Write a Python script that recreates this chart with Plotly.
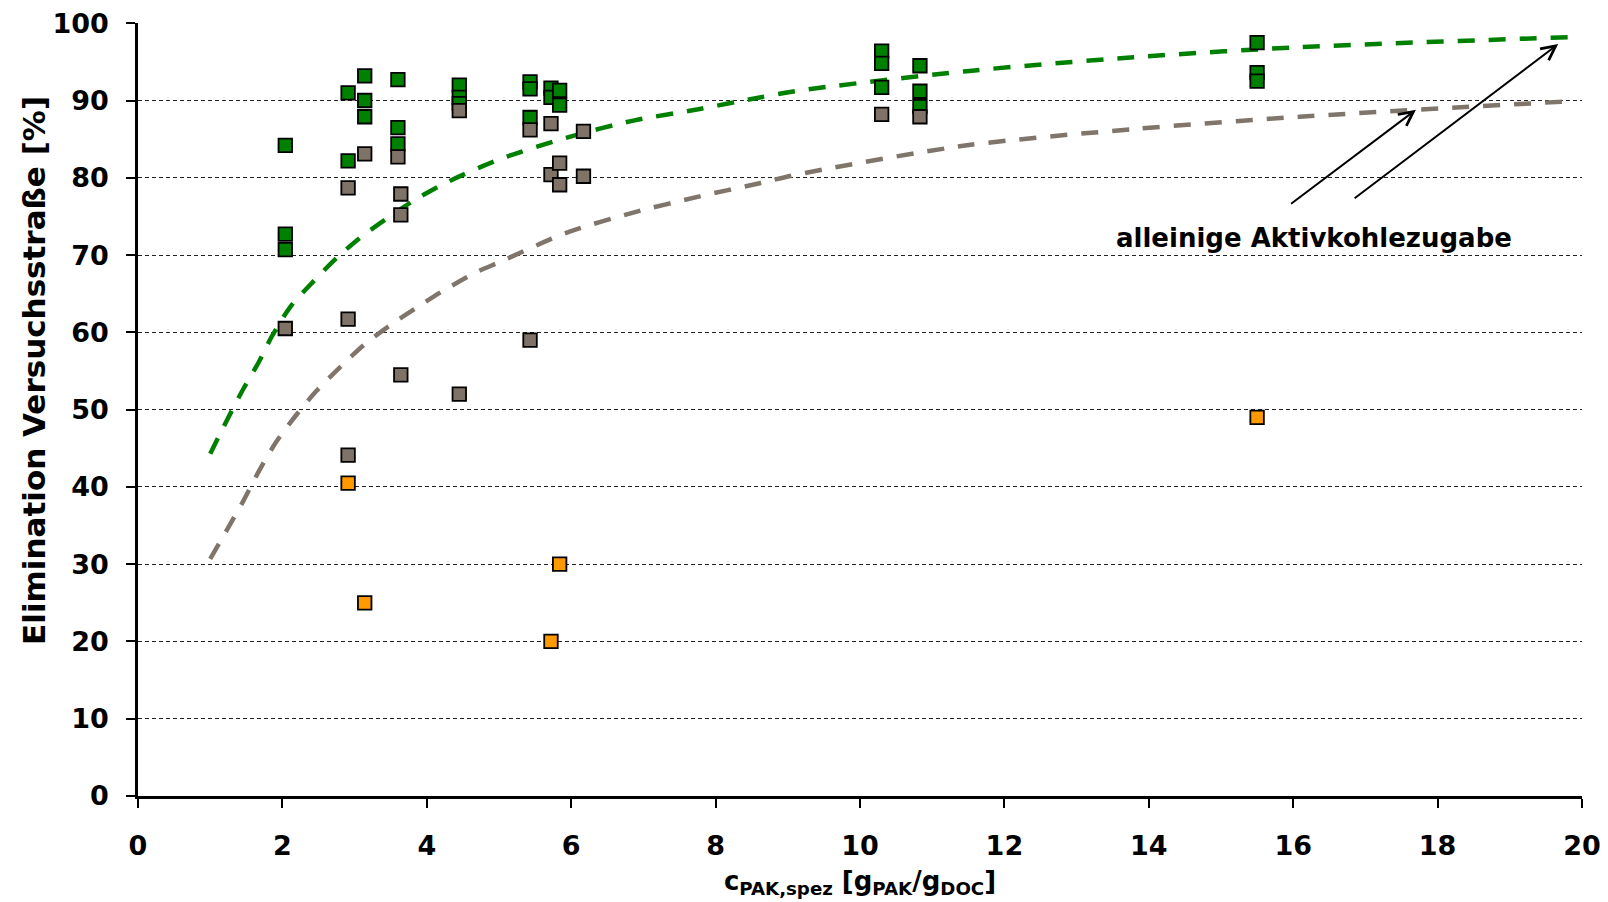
import plotly.graph_objects as go

# ---- data ----
green_x = [2.04, 2.04, 2.04, 2.91, 2.91, 3.14, 3.14, 3.14, 3.60, 3.60, 3.60,
           4.45, 4.45, 4.45, 5.43, 5.43, 5.43, 5.72, 5.72, 5.84, 5.84,
           10.30, 10.30, 10.30, 10.83, 10.83, 10.83, 15.50, 15.50, 15.50]
green_y = [84.2, 72.7, 70.7, 91.0, 82.2, 93.2, 90.0, 87.9, 92.7, 86.5, 84.4,
           92.0, 90.4, 89.6, 92.4, 91.5, 87.8, 91.6, 90.4, 91.3, 89.4,
           96.4, 94.8, 91.7, 94.5, 91.2, 89.2, 97.5, 93.6, 92.5]

grey_x = [2.04, 2.91, 2.91, 2.91, 3.14, 3.60, 3.64, 3.64, 3.64, 4.45, 4.45,
          5.43, 5.43, 5.72, 5.72, 5.84, 5.84, 6.17, 6.17, 10.30, 10.83]
grey_y = [60.5, 78.7, 61.7, 44.1, 83.1, 82.7, 77.9, 75.2, 54.5, 88.7, 52.0,
          86.2, 59.0, 87.0, 80.4, 81.9, 79.1, 86.0, 80.2, 88.2, 87.9]

orange_x = [2.91, 3.14, 5.72, 5.84, 15.50]
orange_y = [40.5, 25.0, 20.0, 30.0, 49.0]

green_fit_x = [1.0, 1.23, 1.46, 1.67, 1.85, 2.11, 2.43, 2.75, 3.07, 3.49, 3.81, 4.23,
               5.01, 5.94, 6.86, 7.78, 8.61, 9.17, 11.48, 13.79, 16.09, 19.83]
green_fit_y = [44.3, 48.6, 52.7, 56.1, 59.4, 63.3, 66.6, 69.6, 72.2, 75.0, 77.0, 79.2,
               82.4, 85.2, 87.4, 88.9, 90.4, 91.3, 93.8, 95.6, 96.9, 98.2]

grey_fit_x = [1.0, 1.23, 1.46, 1.69, 1.92, 2.20, 2.47, 2.80, 3.12, 3.49, 3.86, 4.23,
              4.69, 5.01, 5.94, 6.86, 7.78, 8.61, 9.17, 11.48, 13.79, 16.09, 19.83]
grey_fit_y = [30.7, 34.4, 38.2, 42.3, 45.9, 49.4, 52.4, 55.5, 58.3, 60.9, 63.2, 65.4,
              67.8, 69.1, 72.9, 75.5, 77.6, 79.3, 80.5, 84.2, 86.3, 87.9, 89.9]

x_ticks = [0, 2, 4, 6, 8, 10, 12, 14, 16, 18, 20]
y_ticks = [0, 10, 20, 30, 40, 50, 60, 70, 80, 90, 100]

y_title = "Elimination Versuchsstraße [%]"
x_title = "c<sub>PAK,spez</sub> [g<sub>PAK</sub>/g<sub>DOC</sub>]"
annotation_text = "alleinige Aktivkohlezugabe"
arrow1 = dict(tail=(15.95, 76.5), head=(17.70, 88.8))
arrow2 = dict(tail=(16.83, 77.2), head=(19.67, 97.3))

FONT = "DejaVu Sans, Liberation Sans, Arial, sans-serif"
GREEN = "#008000"
GREY = "#7F7368"
GREY_LINE = "#7F756B"
ORANGE = "#FF9900"

fig = go.Figure()

fig.add_trace(go.Scatter(x=green_fit_x, y=green_fit_y, mode="lines",
                         line=dict(color=GREEN, width=4.5, dash="17px,14px", shape="spline", smoothing=0.8),
                         showlegend=False, hoverinfo="skip"))
fig.add_trace(go.Scatter(x=grey_fit_x, y=grey_fit_y, mode="lines",
                         line=dict(color=GREY_LINE, width=4.5, dash="17px,14px", shape="spline", smoothing=0.8),
                         showlegend=False, hoverinfo="skip"))

marker_line = dict(color="black", width=1.8)
fig.add_trace(go.Scatter(x=green_x, y=green_y, mode="markers",
                         marker=dict(symbol="square", size=13.5, color=GREEN, line=marker_line),
                         showlegend=False))
fig.add_trace(go.Scatter(x=grey_x, y=grey_y, mode="markers",
                         marker=dict(symbol="square", size=13.5, color=GREY, line=marker_line),
                         showlegend=False))
fig.add_trace(go.Scatter(x=orange_x, y=orange_y, mode="markers",
                         marker=dict(symbol="square", size=13.5, color=ORANGE, line=marker_line),
                         showlegend=False))

for a in (arrow1, arrow2):
    fig.add_annotation(x=a["head"][0], y=a["head"][1], ax=a["tail"][0], ay=a["tail"][1],
                       xref="x", yref="y", axref="x", ayref="y", text="",
                       showarrow=True, arrowhead=5, arrowsize=1.4, arrowwidth=2, arrowcolor="black")

fig.add_annotation(x=16.29, y=72.2, xref="x", yref="y", text=annotation_text, showarrow=False,
                   font=dict(family=FONT, size=26, color="black", weight="bold"))

# y-axis title (placed as rotated text, offset upward as in the reference)
fig.add_annotation(x=-0.072, y=0.55, xref="paper", yref="paper", text=y_title,
                   textangle=-90, showarrow=False, xanchor="center", yanchor="middle",
                   font=dict(family=FONT, size=31, color="black", weight="bold"))

# the page body adds an 8px offset, so the figure is 8px smaller than the window
fig.update_layout(
    width=1600, height=894,
    margin=dict(l=130, r=26, t=15, b=106),
    paper_bgcolor="white", plot_bgcolor="white",
    font=dict(family=FONT, color="black"),
)

fig.update_xaxes(
    range=[0, 20], tickvals=x_ticks, ticktext=[str(v) for v in x_ticks],
    automargin=False, ticklabeloverflow="allow",
    showgrid=False, zeroline=False,
    showline=True, linecolor="black", linewidth=2.5,
    ticks="outside", ticklen=9, tickwidth=1.5, tickcolor="black",
    tickfont=dict(family=FONT, size=27, color="black", weight="bold"),
    ticklabelstandoff=15,
    title=dict(text=x_title,
               font=dict(family=FONT, size=26, color="black", weight="bold"), standoff=12),
)
fig.update_yaxes(
    range=[0, 100.03], tickvals=y_ticks, ticktext=[str(v) for v in y_ticks],
    automargin=False, ticklabeloverflow="allow",
    showgrid=True, gridcolor="#222222", gridwidth=1, griddash="4px,3px",
    zeroline=False,
    showline=True, linecolor="black", linewidth=2.5,
    ticks="outside", ticklen=9, tickwidth=1.5, tickcolor="black",
    tickfont=dict(family=FONT, size=27, color="black", weight="bold"),
    ticklabelstandoff=12,
)

fig.write_html("out.html")
